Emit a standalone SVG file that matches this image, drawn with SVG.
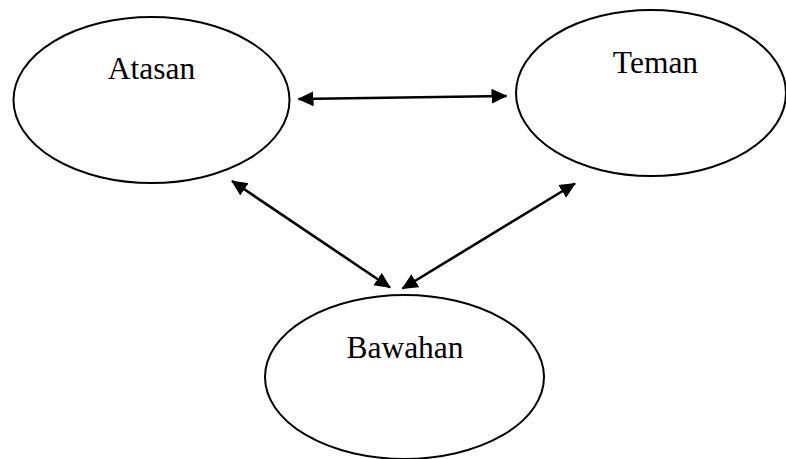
<svg xmlns="http://www.w3.org/2000/svg" width="786" height="459" viewBox="0 0 786 459">
<style>
.node ellipse{fill:#fff;stroke:#000;stroke-width:2}
.node text{font-family:"Liberation Serif","Times New Roman",serif;font-size:31.5px;fill:#000;text-anchor:middle}
.conn line{stroke:#000;stroke-width:2.6}
</style>
<defs>
<marker id="ah" markerUnits="userSpaceOnUse" markerWidth="16" markerHeight="16" refX="15" refY="7.5" orient="auto-start-reverse" viewBox="0 0 16 15">
<path d="M0,0 L16,7.5 L0,15 z" fill="#000"/>
</marker>
</defs>
<rect width="786" height="459" fill="#fff"/>
<g id="atasan" class="node">
<ellipse cx="151.5" cy="100" rx="138" ry="83"/>
<text x="151.5" y="79">Atasan</text>
</g>
<g id="teman" class="node">
<ellipse cx="651" cy="93" rx="135" ry="83"/>
<text x="655.5" y="72.5">Teman</text>
</g>
<g id="bawahan" class="node">
<ellipse cx="404.5" cy="377" rx="139.5" ry="82"/>
<text x="405" y="358">Bawahan</text>
</g>
<g id="connectors" class="conn">
<line x1="298.5" y1="99" x2="506.5" y2="96" marker-start="url(#ah)" marker-end="url(#ah)"/>
<line x1="232" y1="181" x2="390" y2="287.5" marker-start="url(#ah)" marker-end="url(#ah)"/>
<line x1="575" y1="183.5" x2="402.5" y2="288.5" marker-start="url(#ah)" marker-end="url(#ah)"/>
</g>
</svg>
